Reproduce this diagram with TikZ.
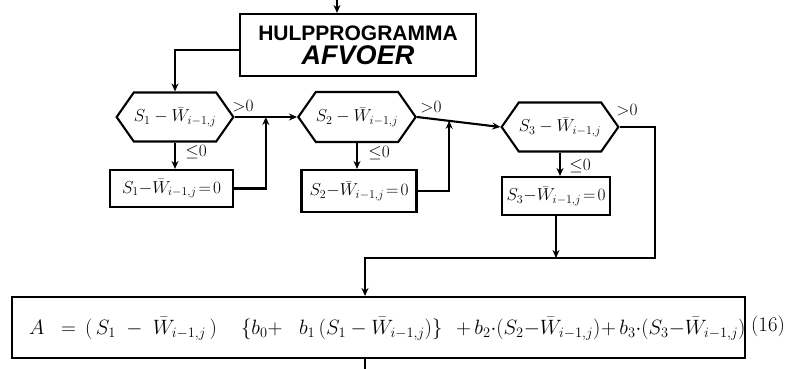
\documentclass[tikz,border=0pt]{standalone}
\usepackage{amssymb}
\usepackage{fontspec}
\newfontfamily\handsans{Liberation Sans}
\usetikzlibrary{arrows.meta,calc,shapes.symbols}
\begin{document}
\begin{tikzpicture}[x=1pt,y=-1pt, line width=2.1pt,
  arr/.style={-{Stealth[length=8pt,width=7pt]}},
  boxnode/.style={draw, rectangle, inner sep=0pt, font=\LARGE},
  hexnode/.style={draw, signal, signal to=east and west, signal from=nowhere,
     signal pointer angle=110, inner xsep=0pt, inner ysep=0pt, font=\LARGE},
  lbl/.style={font=\LARGE, inner sep=1pt},
  ftxt/.style={font=\fontsize{20}{24}\selectfont, inner sep=0pt, anchor=base west}]
\useasboundingbox (0,0) rectangle (792,369);
% top box
\node[boxnode, minimum width=236, minimum height=62, align=center] (top) at (358,45)
  {{\fontsize{21}{22}\handsans\bfseries HULPPROGRAMMA}\\[2pt]
   {\fontsize{27}{28}\handsans\bfseries\itshape AFVOER}};
\coordinate (in) at (337,0);
\draw[arr] (in) -- (in |- top.north);
% hexagons
\node[hexnode, minimum width=108, minimum height=49] (h1) at (175,117) {$S_1-\bar W_{i-1,j}$};
\node[hexnode, minimum width=117, minimum height=50] (h2) at (357,117) {$S_2-\bar W_{i-1,j}$};
\node[hexnode, minimum width=106, minimum height=49] (h3) at (560,127) {$S_3-\bar W_{i-1,j}$};
% boxes
\node[boxnode, minimum width=123, minimum height=37] (b1) at (171.5,188.5) {$S_1{-}\bar W_{i-1,j}\mkern2mu{=}\mkern2mu0$};
\node[boxnode, minimum width=115, minimum height=42] (b2) at (359,191) {$S_2{-}\bar W_{i-1,j}\mkern2mu{=}\mkern2mu0$};
\node[boxnode, minimum width=108, minimum height=38] (b3) at (556,196) {$S_3{-}\bar W_{i-1,j}\mkern2mu{=}\mkern2mu0$};
% formula box
\node[draw, minimum width=733, minimum height=61, inner sep=0pt] (F) at (378.5,327.5) {};
\node[ftxt] (f1) at (28,334) {$A$};
\node[ftxt] (f2) at (60,334) {$=$};
\node[ftxt] (f3) at (84,334) {$(\,S_1\;-\;\bar W_{i-1,j}\,)$};
\node[ftxt] (f4) at (240,334) {$\{b_0+$};
\node[ftxt] (f5) at (298,334) {$b_1\,(S_1-\bar W_{i-1,j})\}$};
\node[ftxt] (f6) at (455,334) {$+\,b_2{\cdot}(S_2{-}\bar W_{i-1,j})$};
\node[ftxt] (f7) at (600,334) {$+\,b_3{\cdot}(S_3{-}\bar W_{i-1,j})$};
\node[font=\huge, inner sep=0pt] (eqno) at (768,326) {(16)};
% connectors
\draw[arr] ($(top.west)+(0,5)$) -| (h1.north);
\draw[arr] (h1.east) -- (h2.west);
\draw[arr] (h2.east) -- (h3.west);
\coordinate (j1) at ($(h1.east)!0.5!(h2.west)$);
\coordinate (j2) at ($(h2.east)!0.386!(h3.west)$);
\draw[arr] (b1.east) -| (j1);
\draw[arr] (b2.east) -| (j2);
\draw[arr] (h1.south) -- (h1.south |- b1.north);
\draw[arr] (h2.south) -- (h2.south |- b2.north);
\draw[arr] (h3.south) -- (h3.south |- b3.north);
\coordinate (c1) at (655,258);
\coordinate (c2) at (365,258);
\draw[arr] (h3.east) -| (c1) -- (c2) -- (c2 |- F.north);
\draw[arr] (b3.south) -- (b3.south |- c1);
\coordinate (out) at (365,369);
\draw (c2 |- F.south) -- (out);
% labels
\node[lbl] (g1) at (243,106) {${>}0$};
\node[lbl] (g2) at (431,107) {${>}0$};
\node[lbl] (g3) at (627,110) {${>}0$};
\node[lbl] (l1) at (196,152) {${\leq}0$};
\node[lbl] (l2) at (379,153) {${\leq}0$};
\node[lbl] (l3) at (580,166) {${\leq}0$};
\end{tikzpicture}
\end{document}
